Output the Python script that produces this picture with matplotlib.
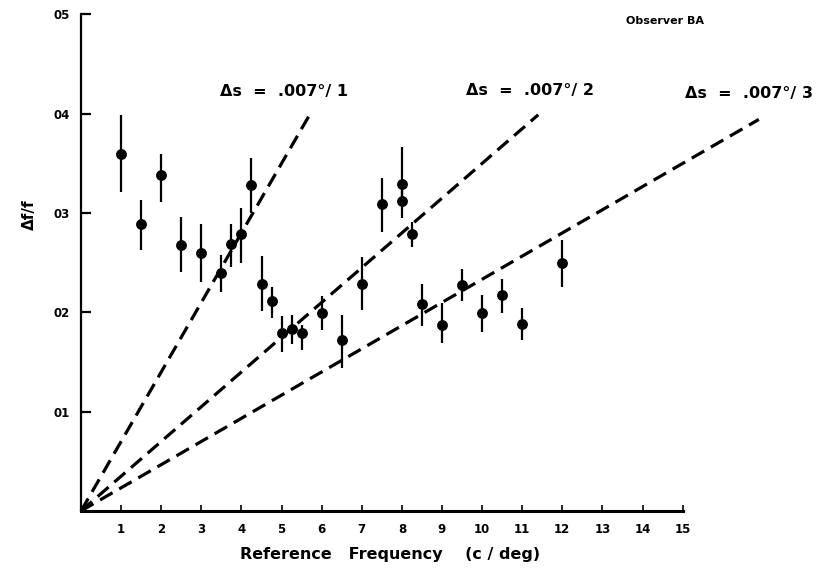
import numpy as np
import matplotlib
matplotlib.use("Agg")
from matplotlib import pyplot as plt

# reference frequency (c/deg) and delta f / f with error bars
freq = [1.0, 1.5, 2.0, 2.5, 3.0, 3.5, 3.75, 4.0, 4.25, 4.5, 4.75,
        5.0, 5.25, 5.5, 6.0, 6.5, 7.0, 7.5, 8.0, 8.0, 8.25,
        8.5, 9.0, 9.5, 10.0, 10.5, 11.0, 12.0]
dff = [0.0359, 0.0289, 0.0338, 0.0268, 0.0260, 0.0240, 0.0269, 0.0279, 0.0328, 0.0229, 0.0211,
       0.0179, 0.0183, 0.0179, 0.0199, 0.0172, 0.0229, 0.0309, 0.0329, 0.0312, 0.0279,
       0.0208, 0.0187, 0.0228, 0.0199, 0.0218, 0.0188, 0.0250]
err_hi = [0.0040, 0.0024, 0.0022, 0.0028, 0.0029, 0.0018, 0.0020, 0.0026, 0.0027, 0.0028, 0.0015,
          0.0017, 0.0014, 0.0008, 0.0017, 0.0025, 0.0027, 0.0026, 0.0038, 0.0015, 0.0012,
          0.0021, 0.0022, 0.0016, 0.0018, 0.0016, 0.0016, 0.0023]
err_lo = [0.0038, 0.0026, 0.0027, 0.0027, 0.0029, 0.0019, 0.0023, 0.0029, 0.0028, 0.0028, 0.0017,
          0.0019, 0.0015, 0.0017, 0.0017, 0.0028, 0.0027, 0.0028, 0.0015, 0.0017, 0.0013,
          0.0022, 0.0018, 0.0017, 0.0019, 0.0019, 0.0016, 0.0024]

# constant-spatial-shift lines: delta f / f = delta s * f
ds = [0.007 / 1, 0.007 / 2, 0.007 / 3]
line_end = [5.75, 11.4, 16.9]
line_labels = ["Δs  =  .007°/ 1", "Δs  =  .007°/ 2", "Δs  =  .007°/ 3"]
label_pos = [(5.05, 0.0415), (11.2, 0.0416), (16.65, 0.0413)]

xticks = list(range(1, 16))
yticks = [0.01, 0.02, 0.03, 0.04, 0.05]
ytick_labels = ["01", "02", "03", "04", "05"]

fig = plt.figure(figsize=(8.21, 5.75), dpi=100)
ax = fig.add_axes([0, 0, 1, 1])
ax.set_xlim(-2.02, 18.45)
ax.set_ylim(-0.00645, 0.05146)

for s, xe in zip(ds, line_end):
    xs = np.array([0, xe])
    ax.plot(xs, s * xs, color='black', lw=2.3, dashes=(4.5, 2.4), solid_capstyle='butt')

ax.errorbar(freq, dff, yerr=[err_lo, err_hi], fmt='o', color='black',
            markersize=6.8, elinewidth=1.6, capsize=0)

for t, (tx, ty) in zip(line_labels, label_pos):
    ax.text(tx, ty, t, ha='center', va='bottom', fontsize=11.5, fontweight='bold')

ax.text(14.55, 0.0493, "Observer BA", ha='center', va='center', fontsize=8, fontweight='heavy')

for side in ['top', 'right']:
    ax.spines[side].set_visible(False)
ax.spines['left'].set_position(('data', 0))
ax.spines['bottom'].set_position(('data', 0))
ax.spines['left'].set_bounds(0, 0.05)
ax.spines['bottom'].set_bounds(0, 15)
ax.spines['left'].set_linewidth(1.6)
ax.spines['bottom'].set_linewidth(2.2)

ax.set_xticks(xticks)
ax.set_xticklabels([str(v) for v in xticks], fontsize=8.5, fontweight='bold')
ax.set_yticks(yticks)
ax.set_yticklabels(ytick_labels, fontsize=8.5, fontweight='bold')
ax.tick_params(axis='x', direction='in', length=4, width=1.2, pad=9)
ax.tick_params(axis='y', direction='in', length=7, width=1.6, pad=8)

ax.text(7.7, -0.0044, "Reference   Frequency    (c / deg)", ha='center', va='center',
        fontsize=11.5, fontweight='bold')
ax.text(-1.28, 0.0298, "Δf/f", ha='center', va='center', rotation=90,
        fontsize=11, fontweight='bold')

fig.savefig("out.png", dpi=100)
